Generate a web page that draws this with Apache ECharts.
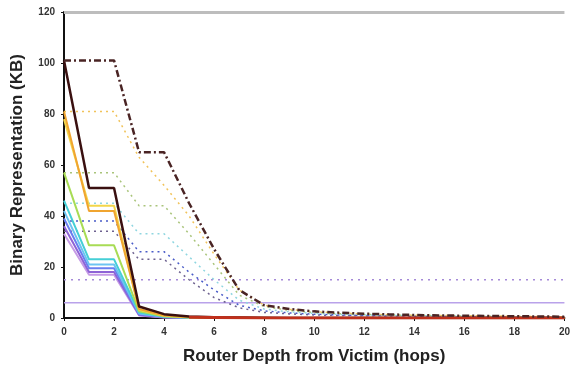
<!DOCTYPE html>
<html>
<head>
<meta charset="utf-8">
<script src="https://cdn.jsdelivr.net/npm/echarts@6/dist/echarts.min.js"></script>
<style>
  html, body { margin: 0; padding: 0; background: #fff; }
  #chart { width: 573px; height: 370px; }
</style>
</head>
<body>
<div id="chart"></div>
<script>
// hop depth 0..20
const hops = [0, 1, 2, 3, 4, 5, 6, 7, 8, 9, 10, 11, 12, 13, 14, 15, 16, 17, 18, 19, 20];

// dotted / dashed curves (flat until hop 2)
const dashMaroon = [101, 101, 101, 65, 65, 45, 27, 11, 5, 3.5, 2.6, 2.1, 1.7, 1.4, 1.2, 1.0, 0.9, 0.8, 0.7, 0.6, 0.5];
const dotOrange = [81, 81, 81, 63, 52, 40, 25, 11, 5, 3.4, 2.5, 2.0, 1.6, 1.3, 1.1, 1.0, 0.9, 0.8, 0.7, 0.6, 0.5];
const dotGreen = [57, 57, 57, 44, 44, 33, 21, 9, 4.5, 3, 2.2, 1.7, 1.4, 1.2, 1.0, 0.9, 0.8, 0.7, 0.6, 0.5, 0.5];
const dotCyan = [45, 45, 45, 33, 33, 24, 15, 7, 3.5, 2.4, 1.8, 1.4, 1.2, 1.0, 0.9, 0.8, 0.7, 0.6, 0.5, 0.5, 0.4];
const dotBlue = [38, 38, 38, 26, 26, 18, 11, 5, 2.8, 2, 1.5, 1.2, 1.0, 0.9, 0.8, 0.7, 0.6, 0.5, 0.5, 0.4, 0.4];
const dotGray = [34, 34, 34, 23, 23, 15, 8, 4, 2.2, 1.6, 1.2, 1.0, 0.9, 0.8, 0.7, 0.6, 0.5, 0.5, 0.4, 0.4, 0.3];
const flatDotted = [15, 15, 15, 15, 15, 15, 15, 15, 15, 15, 15, 15, 15, 15, 15, 15, 15, 15, 15, 15, 15];
const flatSolid = [6, 6, 6, 6, 6, 6, 6, 6, 6, 6, 6, 6, 6, 6, 6, 6, 6, 6, 6, 6, 6];

// solid curves (halve at hop 1, collapse at hop 3)
const solidDark = [101, 51, 51, 4.5, 1.5, 0.6, 0.3, 0.2, 0.1, 0, 0, 0, 0, 0, 0, 0, 0, 0, 0, 0, 0];
const solidOrange = [81, 42, 42, 3.5, 1.0, 0.4, 0.2, 0.1, 0, 0, 0, 0, 0, 0, 0, 0, 0, 0, 0, 0, 0];
const solidYellow = [78, 44, 44, 3.2, 0.9, 0.3, 0.1, 0, 0, 0, 0, 0, 0, 0, 0, 0, 0, 0, 0, 0, 0];
const solidGreen = [57, 28.5, 28.5, 2.6, 0.7, 0.2, 0.1, 0, 0, 0, 0, 0, 0, 0, 0, 0, 0, 0, 0, 0, 0];
const solidCyan = [46, 23, 23, 2.2, 0.6, 0.2, 0, 0, 0, 0, 0, 0, 0, 0, 0, 0, 0, 0, 0, 0, 0];
const solidSky = [42, 21, 21, 1.8, 0.5, 0.1, 0, 0, 0, 0, 0, 0, 0, 0, 0, 0, 0, 0, 0, 0, 0];
const solidBlue = [39, 19.5, 19.5, 1.5, 0.4, 0.1, 0, 0, 0, 0, 0, 0, 0, 0, 0, 0, 0, 0, 0, 0, 0];
const solidViolet = [36, 18, 18, 1.2, 0.3, 0, 0, 0, 0, 0, 0, 0, 0, 0, 0, 0, 0, 0, 0, 0, 0];
const solidLavender = [33, 17, 17, 1.0, 0.2, 0, 0, 0, 0, 0, 0, 0, 0, 0, 0, 0, 0, 0, 0, 0, 0];
const solidRedTail = [null, null, null, null, null, 0.3, 0.2, 0.1, 0, 0, 0, 0, 0, 0, 0, 0, 0, 0, 0, 0, 0];

const xTicks = [0, 2, 4, 6, 8, 10, 12, 14, 16, 18, 20];
const yTicks = [0, 20, 40, 60, 80, 100, 120];

const pairs = (arr) => hops.map((h, i) => [h, arr[i]]);

const line = (data, color, width, type, z) => ({
  type: 'line',
  data: pairs(data),
  symbol: 'none',
  connectNulls: false,
  z: z || 2,
  lineStyle: { color: color, width: width, type: type },
});

const chart = echarts.init(document.getElementById('chart'));

chart.setOption({
  animation: false,
  grid: { left: 64, right: 2, top: 12, bottom: 52 },
  xAxis: {
    type: 'value',
    min: 0,
    max: 20,
    interval: 2,
    name: 'Router Depth from Victim (hops)',
    nameLocation: 'middle',
    nameGap: 30,
    nameTextStyle: { fontFamily: 'Liberation Sans', fontWeight: 'bold', fontSize: 17, color: '#222' },
    axisLine: { lineStyle: { color: '#111', width: 2 } },
    axisTick: { inside: false, length: 3, lineStyle: { color: '#111' } },
    axisLabel: {
      color: '#333', fontSize: 10, fontWeight: 'bold', margin: 9,
      formatter: (v) => (xTicks.includes(v) ? String(v) : ''),
    },
    splitLine: { show: false },
  },
  yAxis: {
    type: 'value',
    min: 0,
    max: 120,
    interval: 20,
    name: 'Binary Representation (KB)',
    nameLocation: 'middle',
    nameGap: 38,
    nameTextStyle: { fontFamily: 'Liberation Sans', fontWeight: 'bold', fontSize: 17, color: '#222' },
    axisLine: { show: true, lineStyle: { color: '#111', width: 2 } },
    axisTick: { show: true, length: 3, lineStyle: { color: '#111' } },
    axisLabel: {
      color: '#333', fontSize: 10, fontWeight: 'bold', margin: 9,
      formatter: (v) => (yTicks.includes(v) ? String(v) : ''),
    },
    splitLine: { show: false },
  },
  series: [
    Object.assign(line(flatSolid, '#b9a2ea', 1.5, 'solid'), {
      markLine: {
        silent: true,
        symbol: 'none',
        label: { show: false },
        lineStyle: { color: '#bdbdbd', width: 3, type: 'solid' },
        data: [{ yAxis: 120 }],
      },
    }),
    line(flatDotted, '#a58ad8', 1.5, [2, 5]),
    line(dotGray, '#6e6290', 1.5, [2, 4]),
    line(dotBlue, '#4a5cc8', 1.5, [2, 4]),
    line(dotCyan, '#8fd6e0', 1.5, [2, 4]),
    line(dotGreen, '#a9c47a', 1.5, [2, 4]),
    line(dotOrange, '#f1c35a', 1.5, [2, 4]),
    line(solidLavender, '#c69be6', 2, 'solid', 3),
    line(solidViolet, '#8e62d6', 2, 'solid', 3),
    line(solidBlue, '#6a7ff0', 2, 'solid', 3),
    line(solidSky, '#6cc4f2', 2, 'solid', 3),
    line(solidCyan, '#45cfd6', 2, 'solid', 3),
    line(solidGreen, '#a8dc55', 2, 'solid', 3),
    line(solidYellow, '#f3d64a', 2, 'solid', 3),
    line(solidOrange, '#f0a530', 2, 'solid', 3),
    line(solidDark, '#3a1010', 2.5, 'solid', 4),
    line(solidRedTail, '#c0301c', 3, 'solid', 4),
    line(dashMaroon, '#4a2424', 2.5, [7, 3, 2, 3], 5),
  ],
});
</script>
</body>
</html>
